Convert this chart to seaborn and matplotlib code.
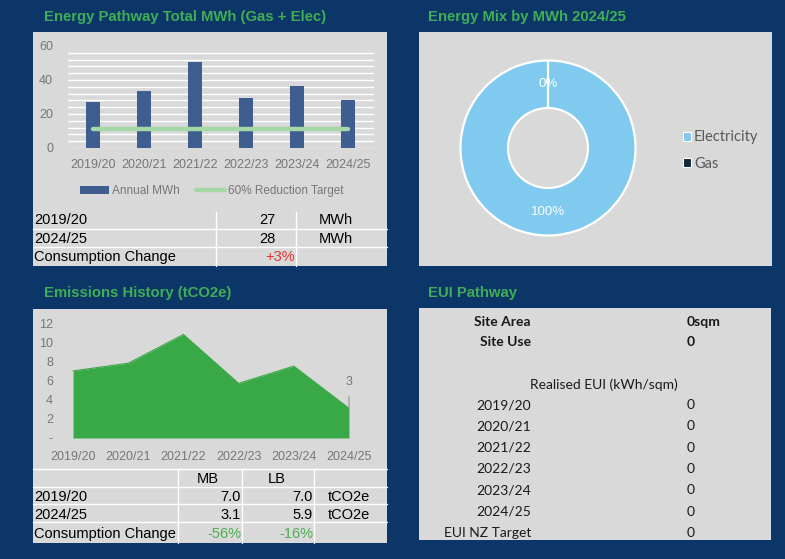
import numpy as np
import pandas as pd
import matplotlib
matplotlib.use("Agg")
import matplotlib.pyplot as plt
from matplotlib.patches import Rectangle, Patch
from matplotlib.lines import Line2D
import seaborn as sns

# ---- data -------------------------------------------------------------
years = ["2019/20", "2020/21", "2021/22", "2022/23", "2023/24", "2024/25"]
annual_mwh = [27.3, 33.5, 50.8, 29.2, 36.5, 28.1]
reduction_target_mwh = 10.9
emissions_mb = [7.0, 7.8, 10.8, 5.7, 7.5, 3.1]
emissions_lb_first = 7.0
emissions_lb_last = 5.9
mix_labels = ["Electricity", "Gas"]
mix_mwh = [28.1, 0.0]
site_area = 0
site_use = 0
eui_values = [0, 0, 0, 0, 0, 0]
eui_target = 0

# ---- style ------------------------------------------------------------
W, H = 785, 559
NAVY = "#0d3668"
PANEL = "#d9d9d9"
TITLE_GREEN = "#3fae55"
BAR = "#3d5e8e"
TARGET = "#a6d7a6"
AREA = "#39a846"
GREY_TXT = "#595959"
TICK_TXT = "#767676"
ELEC = "#7fcaee"
GAS = "#0e2841"

sns.set_style("white")
plt.rcParams["font.family"] = ["Liberation Sans", "DejaVu Sans"]
ALT_FONT = ["Lato", "DejaVu Sans"]

fig = plt.figure(figsize=(W / 100, H / 100), dpi=100)
fig.patch.set_facecolor(NAVY)


def fx(x):
    return x / W


def fy(y):
    return 1 - y / H


def add_ax(x0, y0, x1, y1):
    ax = fig.add_axes([x0 / W, 1 - y1 / H, (x1 - x0) / W, (y1 - y0) / H])
    ax.set_facecolor("none")
    ax.set_zorder(1)
    return ax


def panel(x0, y0, x1, y1):
    fig.patches.append(Rectangle((fx(x0), fy(y1)), (x1 - x0) / W, (y1 - y0) / H,
                                 transform=fig.transFigure, facecolor=PANEL,
                                 edgecolor="none", zorder=-5))


def hline(y, x0, x1):
    fig.add_artist(Line2D([fx(x0), fx(x1)], [fy(y), fy(y)], color="white", lw=1))


def vline(x, y0, y1):
    fig.add_artist(Line2D([fx(x), fx(x)], [fy(y0), fy(y1)], color="white", lw=1))


def txt(x, y, s, **kw):
    kw.setdefault("va", "center")
    fig.text(fx(x), fy(y), s, **kw)


def pct(new, old):
    return (new - old) / old * 100


panel(33, 32, 387, 266)
panel(419, 32, 772, 266)
panel(33, 309, 387, 543)
panel(419, 308, 771, 540)

title_kw = dict(color=TITLE_GREEN, fontsize=10.7, fontweight="bold")
txt(44, 17, "Energy Pathway Total MWh (Gas + Elec)", **title_kw)
txt(428, 17, "Energy Mix by MWh 2024/25", **title_kw)
txt(44, 293, "Emissions History (tCO2e)", **title_kw)
txt(428, 293, "EUI Pathway", **title_kw)

# ---- energy pathway bars ---------------------------------------------
ax1 = add_ax(67.5, 46, 373.5, 148)
for v in range(0, 57, 4):
    ax1.axhline(v, color="white", lw=1, zorder=1)
sns.barplot(x=years, y=annual_mwh, color=BAR, width=0.27, saturation=1,
            linewidth=0, ax=ax1, zorder=3)
target_df = pd.DataFrame({"pos": range(len(years)), "mwh": reduction_target_mwh})
sns.lineplot(data=target_df, x="pos", y="mwh", color=TARGET, lw=3.2,
             ax=ax1, zorder=4)
ax1.set_xlim(-0.5, 5.5)
ax1.set_ylim(0, 60)
ax1.set_yticks([0, 20, 40, 60])
ax1.set_xticks(range(len(years)), years)
ax1.set_xlabel("")
ax1.set_ylabel("")
ax1.tick_params(length=0, labelsize=9, labelcolor=TICK_TXT)
ax1.tick_params(axis="y", pad=10.4)
ax1.tick_params(axis="x", pad=8)
sns.despine(ax=ax1, left=True, bottom=True)

fig.legend([Patch(facecolor=BAR, lw=0), Line2D([], [], color=TARGET, lw=3.2)],
           ["Annual MWh", "60% Reduction Target"],
           loc="center", bbox_to_anchor=(fx(212), fy(191)), ncol=2,
           frameon=False, fontsize=8.5, labelcolor=TICK_TXT,
           handlelength=2.4, handletextpad=0.3, columnspacing=1.4)

# table under the bars
vline(216, 212, 266)
vline(296, 212, 266)
hline(229, 33, 387)
hline(247, 33, 387)
tab_kw = dict(fontsize=10.5, color="black")
txt(34, 220, years[0], **tab_kw)
txt(276, 220, f"{annual_mwh[0]:.0f}", ha="right", **tab_kw)
txt(336, 220, "MWh", ha="center", **tab_kw)
txt(34, 238.5, years[-1], **tab_kw)
txt(276, 238.5, f"{annual_mwh[-1]:.0f}", ha="right", **tab_kw)
txt(336, 238.5, "MWh", ha="center", **tab_kw)
txt(34, 257, "Consumption Change", **tab_kw)
txt(295, 257, f"{pct(annual_mwh[-1], annual_mwh[0]):+.0f}%", ha="right",
    fontsize=10.5, color="#e8302a")

# ---- energy mix donut ---------------------------------------------------
R = 87.5
ax2 = add_ax(548 - 95, 148 - 95, 548 + 95, 148 + 95)
ax2.pie(mix_mwh, colors=[ELEC, GAS], startangle=90, counterclock=False,
        radius=1, wedgeprops=dict(width=47.5 / R, edgecolor="white", linewidth=1.6),
        autopct=lambda p: f"{p:.0f}%", pctdistance=0.73,
        textprops=dict(color="white", fontsize=9.5))
ax2.set_xlim(-95 / R, 95 / R)
ax2.set_ylim(-95 / R, 95 / R)
ax2.set_aspect("equal")
ax2.axis("off")

fig.legend([Patch(facecolor=ELEC, edgecolor="white", lw=0.8),
            Patch(facecolor=GAS, edgecolor="white", lw=0.8)], mix_labels,
           loc="center left", bbox_to_anchor=(fx(670), fy(150.5)),
           frameon=False, prop=dict(family=ALT_FONT, size=10.5),
           labelcolor=GREY_TXT, handlelength=0.55, handleheight=0.55,
           handletextpad=0.2, labelspacing=0.85)

# ---- emissions area -----------------------------------------------------
ax3 = add_ax(62, 323, 360, 438)
pos = np.arange(len(years))
ax3.fill_between(pos, emissions_mb, color=AREA, lw=0, zorder=2)
sns.lineplot(x=pos, y=emissions_mb, color=AREA, lw=0.8, ax=ax3, zorder=3)
ax3.set_xlim(-0.2, 5.2)
ax3.set_ylim(0, 12)
ax3.set_yticks(range(0, 13, 2), ["-"] + [str(v) for v in range(2, 13, 2)])
ax3.set_xticks(pos, years)
ax3.tick_params(length=0, labelsize=9, labelcolor=TICK_TXT)
ax3.tick_params(axis="y", pad=6.5)
ax3.tick_params(axis="x", pad=9)
sns.despine(ax=ax3, left=True, bottom=True)
ax3.annotate(f"{emissions_mb[-1]:.0f}", xy=(5, emissions_mb[-1] + 0.05),
             xytext=(5, 5.85), ha="center", va="center", fontsize=9,
             color=TICK_TXT,
             arrowprops=dict(arrowstyle="-", color="#9a9a9a", lw=0.9,
                             shrinkA=4, shrinkB=0))

# table under the area
hline(469, 33, 387)
hline(487, 33, 387)
hline(504, 33, 387)
hline(522, 33, 387)
vline(178, 469, 543)
vline(242, 469, 543)
vline(314, 469, 543)
txt(208, 479, "MB", ha="center", **tab_kw)
txt(277, 479, "LB", ha="center", **tab_kw)
txt(34, 497, years[0], **tab_kw)
txt(241, 497, f"{emissions_mb[0]:.1f}", ha="right", **tab_kw)
txt(313, 497, f"{emissions_lb_first:.1f}", ha="right", **tab_kw)
txt(328, 497, "tCO2e", **tab_kw)
txt(34, 515, years[-1], **tab_kw)
txt(241, 515, f"{emissions_mb[-1]:.1f}", ha="right", **tab_kw)
txt(313, 515, f"{emissions_lb_last:.1f}", ha="right", **tab_kw)
txt(328, 515, "tCO2e", **tab_kw)
txt(34, 534, "Consumption Change", **tab_kw)
green_kw = dict(fontsize=10.5, color="#4cae4f", ha="right")
txt(241, 534, f"{pct(emissions_mb[-1], emissions_mb[0]):.0f}%", **green_kw)
txt(313, 534, f"{pct(emissions_lb_last, emissions_lb_first):.0f}%", **green_kw)

# ---- EUI pathway ---------------------------------------------------------
eui_kw = dict(fontsize=10, color="#1a1a1a", family=ALT_FONT)
txt(531, 322, "Site Area", ha="right", fontweight="bold", **eui_kw)
txt(687, 322, f"{site_area}sqm", ha="left", fontweight="bold", **eui_kw)
txt(531, 342, "Site Use", ha="right", fontweight="bold", **eui_kw)
txt(687, 342, f"{site_use}", ha="left", fontweight="bold", **eui_kw)
txt(604, 385, "Realised EUI (kWh/sqm)", ha="center", **eui_kw)
for i, (yr, v) in enumerate(zip(years, eui_values)):
    yy = 405 + i * 21.3
    txt(531, yy, yr, ha="right", **eui_kw)
    txt(687, yy, f"{v}", ha="left", **eui_kw)
txt(531, 533, "EUI NZ Target", ha="right", **eui_kw)
txt(687, 533, f"{eui_target}", ha="left", **eui_kw)

fig.savefig("out.png", dpi=100, facecolor=NAVY)
